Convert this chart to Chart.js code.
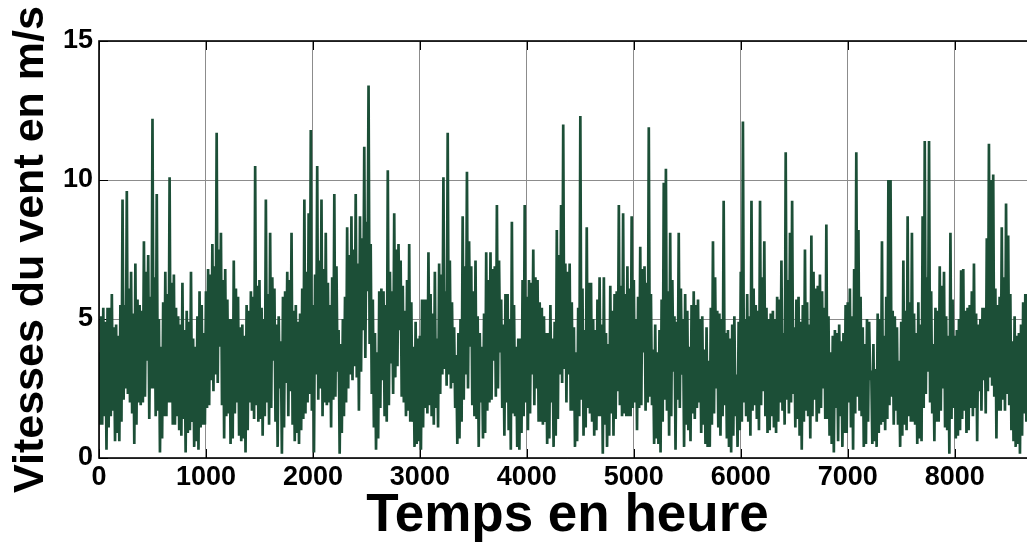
<!DOCTYPE html>
<html>
<head>
<meta charset="utf-8">
<title>Vitesses du vent</title>
<script src="https://cdn.jsdelivr.net/npm/chart.js@4.4.1/dist/chart.umd.min.js"></script>
<style>
  html, body { margin: 0; padding: 0; background: #fff; overflow: hidden; }
  #wrap { width: 1027px; height: 548px; overflow: hidden; }
</style>
</head>
<body>
<div id="wrap"><canvas id="chart" width="1036" height="548"></canvas></div>
<script>
// wind speed (m/s), one sample every 10 hours over the year
const STEP_HOURS = 10;
const windSpeed = [
  3.8, 1.2, 5.1, 1.2, 5.4, 1.5, 4.9, 0.3, 5.4, 1.1, 5.4, 1.5, 5.9, 1.7, 4.7, 0.6, 4.8, 0.9, 4.4, 0.6,
  5.5, 1.3, 9.3, 2.1, 5.5, 2.5, 9.6, 2.3, 6.1, 2.0, 6.7, 1.6, 5.2, 0.5, 7.0, 1.2, 5.7, 2.0, 5.5, 1.9,
  5.3, 2.0, 7.8, 2.2, 6.7, 3.5, 7.3, 1.4, 5.8, 2.5, 12.2, 2.5, 6.5, 1.5, 9.5, 1.7, 5.0, 0.2, 4.0, 0.7,
  5.6, 1.5, 6.7, 1.5, 5.9, 2.0, 10.1, 2.0, 6.3, 1.2, 6.6, 1.2, 5.4, 1.5, 5.1, 1.0, 4.8, 0.8, 6.3, 1.4,
  4.6, 0.2, 5.3, 0.9, 4.9, 1.0, 6.7, 1.3, 4.3, 0.4, 4.0, 0.6, 5.1, 0.3, 6.0, 1.1, 5.5, 1.2, 4.5, 1.2,
  6.0, 1.8, 6.8, 1.9, 6.6, 2.8, 7.7, 2.4, 6.9, 3.0, 11.7, 2.7, 7.5, 4.0, 8.1, 1.9, 6.4, 0.7, 6.8, 1.5,
  5.7, 1.6, 5.0, 0.5, 5.0, 0.7, 7.1, 1.6, 6.1, 2.0, 5.8, 0.8, 4.7, 0.6, 4.8, 0.7, 4.4, 0.2, 5.5, 1.0,
  5.3, 2.0, 6.0, 1.7, 5.8, 1.4, 10.5, 1.9, 6.2, 1.3, 6.4, 1.4, 5.4, 0.8, 5.0, 1.5, 9.3, 2.0, 5.9, 1.2,
  8.1, 1.8, 6.5, 3.5, 6.1, 1.3, 4.8, 0.4, 5.1, 2.5, 4.2, 0.15, 5.8, 1.1, 6.0, 2.7, 6.7, 1.5, 6.4, 2.4,
  8.1, 1.2, 5.3, 0.6, 5.5, 0.9, 4.9, 0.5, 5.2, 1.0, 6.1, 1.4, 9.3, 1.6, 6.7, 2.0, 8.8, 2.3, 11.8, 1.7,
  5.5, 0.2, 6.6, 3.0, 10.5, 2.1, 7.1, 2.5, 9.3, 1.5, 6.8, 2.0, 8.1, 1.9, 6.3, 2.0, 5.5, 1.1, 6.5, 2.1,
  9.5, 2.2, 6.9, 3.1, 4.6, 0.15, 4.1, 0.9, 5.0, 1.5, 5.8, 2.0, 8.3, 2.5, 7.3, 3.0, 8.7, 2.8, 7.5, 3.3,
  9.5, 2.9, 7.0, 1.7, 8.7, 3.1, 7.9, 4.6, 11.2, 3.6, 8.5, 6.0, 13.4, 4.1, 7.7, 2.3, 5.7, 1.1, 4.5, 0.3,
  3.8, 0.7, 6.0, 1.8, 6.1, 2.8, 6.0, 1.5, 5.5, 1.3, 10.35, 1.9, 6.7, 3.4, 6.0, 2.3, 8.8, 2.9, 7.5, 3.3,
  7.7, 4.6, 7.1, 2.2, 6.2, 2.0, 5.3, 1.5, 6.4, 1.7, 7.7, 1.3, 5.6, 1.3, 4.0, 0.4, 4.9, 0.5, 4.3, 0.6,
  4.4, 0.3, 5.7, 1.1, 5.7, 1.8, 5.7, 1.6, 7.4, 1.9, 5.9, 1.5, 5.2, 1.2, 6.7, 1.8, 4.3, 1.1, 7.0, 2.3,
  6.6, 3.0, 10.1, 3.2, 6.0, 2.6, 11.7, 3.0, 7.1, 2.5, 5.6, 2.7, 4.7, 1.8, 3.7, 0.5, 4.5, 0.7, 5.0, 1.3,
  8.7, 2.1, 6.9, 3.0, 10.3, 2.5, 7.8, 4.0, 6.9, 1.9, 6.0, 1.5, 7.1, 1.4, 5.1, 0.4, 4.5, 2.0, 4.0, 0.7,
  5.2, 0.9, 7.4, 1.7, 6.4, 2.0, 7.4, 2.1, 6.8, 3.5, 6.9, 2.2, 9.1, 2.5, 7.1, 3.8, 5.7, 1.8, 4.8, 0.8,
  5.9, 2.0, 5.9, 1.0, 5.0, 0.3, 8.5, 1.6, 5.5, 1.5, 4.0, 0.4, 4.3, 0.3, 4.3, 0.9, 6.4, 1.5, 9.1, 2.0,
  5.8, 1.0, 6.4, 1.6, 6.3, 3.0, 7.5, 1.9, 6.5, 2.5, 6.4, 1.3, 5.6, 1.3, 5.4, 1.2, 5.1, 1.3, 4.5, 0.5,
  4.5, 0.7, 5.5, 2.0, 4.3, 0.4, 4.9, 0.8, 8.2, 1.4, 7.3, 3.0, 9.1, 2.7, 12.0, 3.2, 7.0, 2.0, 6.7, 3.0,
  7.0, 1.7, 5.6, 1.7, 4.7, 0.4, 3.8, 0.6, 5.4, 1.5, 12.3, 2.1, 6.1, 0.8, 4.6, 1.1, 8.3, 1.8, 6.3, 1.6,
  6.3, 1.3, 5.0, 0.8, 4.6, 1.0, 5.7, 1.5, 6.5, 1.5, 4.8, 0.15, 6.5, 1.2, 4.5, 0.4, 4.1, 0.8, 6.2, 1.6,
  5.3, 0.8, 5.9, 1.4, 6.0, 2.4, 9.1, 1.9, 6.2, 1.5, 8.8, 1.6, 5.9, 1.5, 6.9, 1.5, 6.1, 1.5, 8.7, 1.8,
  6.4, 2.0, 5.0, 1.0, 5.8, 1.8, 7.6, 1.9, 6.8, 3.8, 6.9, 1.7, 6.3, 2.0, 11.9, 2.2, 5.9, 1.9, 3.9, 0.5,
  4.8, 0.7, 3.8, 0.5, 4.6, 0.2, 5.7, 1.3, 9.9, 2.1, 10.4, 1.7, 6.0, 0.8, 8.1, 1.5, 6.4, 3.1, 5.1, 0.3,
  4.9, 2.1, 8.1, 1.8, 6.1, 3.0, 5.0, 0.4, 5.9, 1.2, 5.3, 1.0, 4.0, 0.6, 5.5, 1.6, 6.0, 1.4, 5.5, 1.8,
  5.7, 2.0, 5.0, 0.9, 5.1, 1.2, 3.9, 0.5, 4.7, 0.4, 3.5, 0.4, 5.4, 1.2, 7.8, 1.6, 6.5, 2.5, 5.3, 1.1,
  5.2, 0.8, 5.0, 1.5, 9.25, 1.9, 4.5, 0.7, 4.6, 0.4, 4.3, 0.2, 4.8, 0.8, 5.1, 1.5, 3.0, 0.4, 4.9, 1.0,
  6.7, 1.3, 12.1, 2.0, 5.0, 1.5, 5.9, 1.3, 5.1, 0.8, 9.25, 1.7, 6.1, 1.9, 5.5, 1.4, 5.3, 1.0, 9.25, 1.9,
  6.5, 2.4, 7.8, 1.5, 5.4, 0.9, 5.0, 1.0, 5.2, 1.5, 5.3, 1.1, 5.0, 0.9, 5.8, 1.3, 5.7, 2.0, 7.1, 1.7,
  4.5, 1.2, 11.0, 2.1, 6.4, 1.6, 8.1, 2.0, 9.25, 2.3, 4.7, 1.1, 5.7, 1.4, 5.8, 0.8, 4.9, 0.3, 5.5, 1.3,
  7.5, 1.7, 5.6, 1.5, 4.8, 0.7, 8.0, 1.5, 6.7, 2.1, 6.1, 1.3, 6.2, 1.6, 6.6, 1.8, 6.0, 2.5, 5.4, 1.4,
  8.4, 1.4, 5.1, 0.8, 3.8, 0.5, 4.4, 0.2, 4.6, 1.8, 4.5, 0.6, 4.8, 1.5, 4.2, 0.4, 4.5, 0.9, 5.5, 0.9,
  5.6, 2.0, 6.1, 1.1, 5.1, 0.3, 6.8, 1.6, 11.0, 2.2, 8.2, 1.7, 5.8, 1.5, 4.7, 0.4, 4.1, 0.5, 5.0, 1.3,
  4.9, 2.8, 3.15, 0.5, 4.1, 0.6, 3.2, 0.4, 5.2, 0.9, 5.0, 1.2, 7.8, 1.3, 4.4, 1.0, 5.8, 1.4, 10.0, 1.9,
  10.0, 2.2, 5.3, 1.2, 5.1, 1.7, 4.7, 1.2, 3.5, 0.4, 4.9, 0.8, 7.1, 1.2, 5.3, 1.0, 8.7, 1.5, 5.6, 1.3,
  8.1, 1.3, 5.2, 1.2, 4.5, 0.5, 5.6, 0.7, 4.8, 0.6, 8.7, 1.8, 11.4, 2.3, 6.5, 3.1, 11.4, 2.0, 6.0, 1.6,
  4.1, 0.6, 5.4, 1.3, 5.3, 1.3, 6.9, 1.7, 6.2, 2.5, 6.7, 1.1, 5.1, 1.0, 4.4, 0.15, 8.1, 1.4, 5.7, 1.8,
  4.4, 0.7, 4.6, 0.8, 5.0, 1.0, 6.75, 1.4, 6.8, 1.7, 5.3, 0.9, 5.4, 1.0, 5.5, 1.8, 6.0, 1.5, 7.0, 1.8,
  5.2, 0.6, 4.8, 2.4, 5.0, 1.7, 5.4, 2.8, 5.4, 1.6, 7.9, 2.4, 11.3, 2.9, 10.0, 2.6, 10.2, 2.2, 6.1, 0.7,
  5.5, 1.7, 5.8, 1.7, 8.3, 2.1, 6.5, 1.7, 9.15, 2.3, 8.0, 1.9, 5.9, 1.0, 4.2, 0.6, 5.1, 0.4, 4.4, 0.5,
  4.5, 0.15, 4.8, 0.8, 5.6, 1.6, 5.9, 1.3, 5.9, 1.8, 6.0, 1.5, 6.1, 2.5, 5.0, 1.9, 3.0
];

const hourTicks = [0, 1000, 2000, 3000, 4000, 5000, 6000, 7000, 8000];
const speedTicks = [0, 5, 10, 15];
const HOURS_MAX = 8760;

const LINE_COLOR = '#1c4f37';
const GRID_COLOR = '#8c8c8c';
const FONT = "'Liberation Sans', Arial, sans-serif";

const points = windSpeed.map((v, i) => ({ x: i * STEP_HOURS, y: v }));

// axis box plus the short inward ticks on all four sides
const axisFrame = {
  id: 'axisFrame',
  beforeDatasetsDraw(chart) {
    const { ctx, chartArea: a, scales: { x, y } } = chart;
    ctx.save();
    ctx.strokeStyle = '#000';
    ctx.lineWidth = 1;
    ctx.beginPath();
    hourTicks.forEach(v => {
      const px = Math.round(x.getPixelForValue(v)) + 0.5;
      ctx.moveTo(px, a.bottom); ctx.lineTo(px, a.bottom - 9);
      ctx.moveTo(px, a.top); ctx.lineTo(px, a.top + 9);
    });
    speedTicks.forEach(v => {
      const py = Math.round(y.getPixelForValue(v)) + 0.5;
      ctx.moveTo(a.left, py); ctx.lineTo(a.left + 9, py);
      ctx.moveTo(a.right, py); ctx.lineTo(a.right - 9, py);
    });
    ctx.stroke();
    ctx.restore();
  },
  afterDraw(chart) {
    const { ctx, chartArea: a } = chart;
    ctx.save();
    ctx.strokeStyle = '#000';
    ctx.lineWidth = 1.6;
    ctx.strokeRect(a.left, a.top, a.right - a.left, a.bottom - a.top);
    ctx.restore();
  }
};

new Chart(document.getElementById('chart'), {
  type: 'line',
  data: {
    datasets: [{
      data: points,
      borderColor: LINE_COLOR,
      borderWidth: 2.7,
      borderJoinStyle: 'bevel',
      pointRadius: 0,
      tension: 0,
      fill: false
    }]
  },
  options: {
    responsive: false,
    animation: false,
    devicePixelRatio: 1,
    layout: { padding: { top: 41, right: 0, bottom: 0, left: 0 } },
    plugins: { legend: { display: false }, tooltip: { enabled: false } },
    scales: {
      x: {
        type: 'linear',
        min: 0,
        max: HOURS_MAX,
        afterBuildTicks: s => { s.ticks = hourTicks.map(v => ({ value: v })); },
        afterFit: s => { s.height = 90; },
        grid: { color: GRID_COLOR, lineWidth: 1, drawTicks: false },
        border: { display: false },
        ticks: {
          color: '#000',
          padding: 3,
          maxRotation: 0,
          autoSkip: false,
          callback: v => String(v),
          font: { family: FONT, size: 27, weight: 'bold' }
        },
        title: {
          display: true,
          text: 'Temps en heure',
          color: '#000',
          padding: { top: 0, bottom: 0 },
          font: { family: FONT, size: 53, weight: 'bold' }
        }
      },
      y: {
        min: 0,
        max: 15,
        afterBuildTicks: s => { s.ticks = speedTicks.map(v => ({ value: v })); },
        afterFit: s => { s.width = 99; },
        grid: { color: GRID_COLOR, lineWidth: 1, drawTicks: false },
        border: { display: false },
        ticks: {
          color: '#000',
          padding: 6,
          callback: v => String(v),
          font: { family: FONT, size: 27, weight: 'bold' }
        },
        title: {
          display: true,
          text: 'Vitesses du vent en m/s',
          color: '#000',
          padding: { top: 5, bottom: 0 },
          font: { family: FONT, size: 43, weight: 'bold' }
        }
      }
    }
  },
  plugins: [axisFrame]
});
</script>
</body>
</html>
